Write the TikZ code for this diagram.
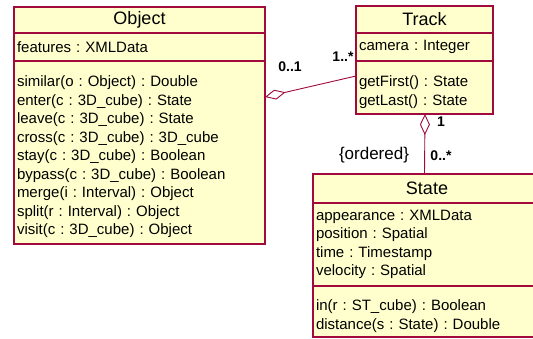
\documentclass[tikz,border=0pt]{standalone}
\usepackage{fontspec}
\setmainfont{Liberation Sans}
\frenchspacing
\usetikzlibrary{arrows.meta,positioning}
\definecolor{ln}{RGB}{160,10,60}
\definecolor{fc}{RGB}{255,255,206}
\tikzset{cls/.style={draw=ln,fill=fc,line width=1.1pt,inner xsep=3pt,inner ysep=2pt,outer sep=0pt},
 ttl/.style={cls,anchor=north west,align=center,font=\fontsize{18}{20}\selectfont},
 cmp/.style={cls,align=left,font=\fontsize{15}{18.5}\selectfont},
 ops/.style={cmp,execute at begin node={\rule{0pt}{20pt}}},
 agg/.style={draw=ln,line width=.9pt,{Diamond[open,length=21pt,width=10pt,line width=.9pt]}-},
 mult/.style={font=\bfseries\fontsize{14}{16}\selectfont,inner sep=0pt},
 every node/.style={text=black}}
\begin{document}
\begin{tikzpicture}[x=1pt,y=-1pt]
\useasboundingbox (0,0) rectangle (533,338);
% Object
\node[ttl,text width=245pt,minimum height=26pt] (objT) at (14,7) {Object};
\node[cmp,text width=245pt,minimum height=28pt,below=0pt of objT] (objA) {features : XMLData};
\node[ops,text width=245pt,minimum height=183pt,below=0pt of objA] (objO) {similar(o : Object) : Double\\enter(c : 3D\_cube) : State\\leave(c : 3D\_cube) : State\\cross(c : 3D\_cube) : 3D\_cube\\stay(c : 3D\_cube) : Boolean\\bypass(c : 3D\_cube) : Boolean\\merge(i : Interval) : Object\\split(r : Interval) : Object\\visit(c : 3D\_cube) : Object};
% Track
\node[ttl,text width=131pt,minimum height=27pt] (trkT) at (356,6) {Track};
\node[cmp,text width=131pt,minimum height=28pt,below=0pt of trkT] (trkA) {camera : Integer};
\node[ops,text width=131pt,minimum height=53pt,below=0pt of trkA] (trkO) {getFirst() : State\\getLast() : State};
% State
\node[ttl,text width=222pt,minimum height=29pt] (stT) at (313,174) {State};
\node[cmp,text width=222pt,minimum height=83pt,below=0pt of stT] (stA) {appearance : XMLData\\position : Spatial\\time : Timestamp\\velocity : Spatial};
\node[ops,text width=222pt,minimum height=51pt,below=0pt of stA] (stO) {in(r : ST\_cube) : Boolean\\distance(s : State) : Double};
% associations
\draw[agg] ([yshift=-36pt]objO.north east) -- ([yshift=-15pt]trkO.north west);
\draw[agg] ([xshift=.5pt]trkO.south) -- (trkO.south |- stT.north);
\node[mult] (m01) at (290,67) {0..1};
\node[mult] (m1n) at (343,57) {1..*};
\node[mult] (m1) at (441,122) {1};
\node[mult] (m0n) at (441,156) {0..*};
\node[font=\fontsize{17}{19}\selectfont,inner sep=0pt] (ord) at (374,155) {\{ordered\}};
\end{tikzpicture}
\end{document}
